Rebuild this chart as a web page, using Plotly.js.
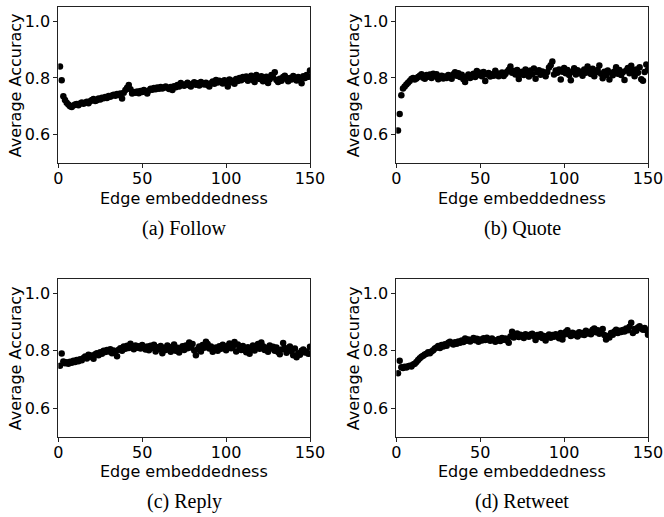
<!DOCTYPE html>
<html>
<head>
<meta charset="utf-8">
<script src="https://cdn.plot.ly/plotly-3.0.1.min.js"></script>
<style>
html,body{margin:0;padding:0;background:#fff;}
#chart{width:664px;height:517px;}
</style>
</head>
<body>
<div id="chart"></div>
<script>
// Edge embeddedness values 1..150
const embeddedness = Array.from({length:150},(_, i) => i + 1);

const follow = [
0.840,0.792,0.735,0.722,0.712,0.706,0.700,0.697,0.703,0.706,
0.708,0.704,0.710,0.713,0.709,0.712,0.716,0.711,0.718,0.722,
0.726,0.719,0.721,0.727,0.724,0.730,0.728,0.733,0.729,0.736,
0.734,0.738,0.741,0.737,0.743,0.740,0.745,0.727,0.748,0.757,
0.765,0.775,0.760,0.745,0.750,0.748,0.752,0.746,0.754,0.750,
0.757,0.753,0.745,0.756,0.762,0.758,0.764,0.760,0.766,0.762,
0.768,0.763,0.766,0.770,0.765,0.761,0.768,0.757,0.771,0.767,
0.775,0.770,0.782,0.776,0.772,0.778,0.783,0.774,0.770,0.779,
0.785,0.776,0.781,0.773,0.786,0.780,0.777,0.783,0.775,0.770,
0.781,0.787,0.779,0.793,0.784,0.790,0.786,0.780,0.792,0.788,
0.770,0.794,0.785,0.790,0.779,0.796,0.789,0.800,0.792,0.803,
0.797,0.805,0.790,0.799,0.808,0.793,0.786,0.810,0.802,0.796,
0.806,0.788,0.799,0.804,0.782,0.795,0.810,0.802,0.820,0.793,
0.786,0.797,0.790,0.803,0.808,0.796,0.788,0.800,0.794,0.807,
0.798,0.791,0.803,0.797,0.781,0.806,0.800,0.810,0.804,0.826
];

const quote = [
0.615,0.673,0.739,0.763,0.770,0.777,0.783,0.789,0.796,0.800,
0.794,0.798,0.803,0.808,0.813,0.801,0.797,0.810,0.804,0.812,
0.800,0.815,0.806,0.813,0.795,0.802,0.808,0.798,0.805,0.800,
0.810,0.803,0.797,0.813,0.820,0.808,0.816,0.803,0.811,0.795,
0.786,0.805,0.812,0.800,0.808,0.815,0.803,0.824,0.810,0.818,
0.806,0.821,0.789,0.812,0.817,0.805,0.813,0.808,0.825,0.816,
0.806,0.811,0.819,0.807,0.814,0.822,0.829,0.840,0.818,0.824,
0.812,0.828,0.796,0.815,0.822,0.810,0.830,0.818,0.805,0.826,
0.813,0.833,0.797,0.820,0.827,0.811,0.823,0.816,0.806,0.821,
0.837,0.845,0.858,0.812,0.826,0.818,0.830,0.794,0.822,0.835,
0.816,0.828,0.810,0.792,0.822,0.834,0.812,0.827,0.816,0.822,
0.808,0.830,0.818,0.840,0.825,0.814,0.832,0.806,0.820,0.828,
0.844,0.815,0.799,0.822,0.810,0.826,0.794,0.818,0.809,0.823,
0.838,0.815,0.828,0.810,0.820,0.793,0.826,0.835,0.816,0.843,
0.824,0.806,0.830,0.818,0.838,0.795,0.790,0.821,0.847,0.829
];

const reply = [
0.748,0.791,0.763,0.757,0.760,0.755,0.762,0.758,0.765,0.761,
0.768,0.764,0.771,0.767,0.775,0.780,0.773,0.786,0.779,0.784,
0.772,0.788,0.792,0.785,0.795,0.790,0.800,0.796,0.803,0.798,
0.806,0.792,0.801,0.797,0.781,0.804,0.809,0.800,0.815,0.807,
0.818,0.810,0.825,0.813,0.806,0.819,0.811,0.816,0.808,0.820,
0.812,0.805,0.815,0.802,0.818,0.810,0.821,0.798,0.813,0.806,
0.817,0.792,0.811,0.803,0.819,0.808,0.797,0.814,0.822,0.800,
0.811,0.794,0.807,0.816,0.803,0.819,0.809,0.829,0.812,0.824,
0.801,0.785,0.806,0.815,0.798,0.820,0.811,0.832,0.824,0.808,
0.815,0.797,0.803,0.812,0.800,0.816,0.807,0.821,0.812,0.802,
0.818,0.826,0.809,0.814,0.831,0.798,0.822,0.812,0.803,0.817,
0.808,0.795,0.813,0.790,0.806,0.819,0.801,0.812,0.824,0.807,
0.829,0.816,0.803,0.811,0.797,0.819,0.808,0.814,0.800,0.812,
0.796,0.788,0.805,0.827,0.810,0.793,0.804,0.815,0.799,0.785,
0.808,0.778,0.792,0.786,0.800,0.805,0.794,0.798,0.790,0.814
];

const retweet = [
0.722,0.765,0.743,0.740,0.744,0.742,0.746,0.748,0.745,0.752,
0.755,0.761,0.768,0.774,0.779,0.783,0.787,0.790,0.795,0.792,
0.798,0.802,0.808,0.812,0.817,0.810,0.820,0.815,0.823,0.818,
0.828,0.832,0.826,0.822,0.830,0.825,0.833,0.828,0.836,0.831,
0.843,0.835,0.840,0.833,0.838,0.845,0.837,0.842,0.832,0.840,
0.836,0.844,0.838,0.846,0.840,0.835,0.843,0.838,0.832,0.836,
0.841,0.834,0.845,0.839,0.843,0.836,0.828,0.850,0.867,0.847,
0.855,0.861,0.848,0.856,0.852,0.845,0.858,0.853,0.849,0.857,
0.860,0.852,0.838,0.855,0.849,0.858,0.845,0.852,0.836,0.850,
0.857,0.846,0.855,0.849,0.858,0.851,0.844,0.862,0.840,0.856,
0.866,0.872,0.858,0.852,0.863,0.855,0.860,0.850,0.865,0.857,
0.862,0.855,0.870,0.861,0.866,0.858,0.874,0.878,0.865,0.872,
0.860,0.868,0.876,0.855,0.840,0.852,0.847,0.862,0.856,0.868,
0.874,0.862,0.870,0.866,0.873,0.868,0.878,0.872,0.884,0.898,
0.862,0.876,0.870,0.882,0.886,0.878,0.874,0.880,0.872,0.856
];

const captions = ["(a) Follow", "(b) Quote", "(c) Reply", "(d) Retweet"];
const xTitle = "Edge embeddedness";
const yTitle = "Average Accuracy";
const xTicks = [0, 50, 100, 150];
const yTicks = [0.6, 0.8, 1.0];

const W = 664, H = 517;
const px = v => v / W;
const py = v => 1 - v / H;

const panels = [
  {data: follow,  x0: 58.3,  x1: 310, y0: 7,     y1: 163},
  {data: quote,   x0: 396.3, x1: 648, y0: 7,     y1: 163},
  {data: reply,   x0: 58.3,  x1: 310, y0: 279.3, y1: 436.7},
  {data: retweet, x0: 396.3, x1: 648, y0: 279.3, y1: 436.7}
];

const font = {family: "DejaVu Sans, sans-serif", size: 16, color: "#000"};
const traces = [];
const layout = {
  width: W, height: H,
  margin: {l: 0, r: 0, t: 0, b: 0},
  paper_bgcolor: "#fff", plot_bgcolor: "#fff",
  showlegend: false,
  font: font,
  annotations: []
};

panels.forEach((p, i) => {
  const n = i === 0 ? "" : String(i + 1);
  traces.push({
    type: "scatter", mode: "markers",
    x: embeddedness, y: p.data,
    xaxis: "x" + n, yaxis: "y" + n,
    marker: {color: "#000", size: 6.5, line: {width: 0}},
    hoverinfo: "skip"
  });
  const axCommon = {
    showline: true, mirror: true, linecolor: "#222", linewidth: 1,
    ticks: "outside", ticklen: 4, tickwidth: 1, tickcolor: "#222",
    showgrid: false, zeroline: false, tickfont: font
  };
  layout["xaxis" + n] = Object.assign({}, axCommon, {
    domain: [px(p.x0), px(p.x1)], range: [0, 150],
    tickvals: xTicks, ticktext: xTicks.map(String),
    ticklabelstandoff: -3,
    anchor: "y" + n
  });
  layout["yaxis" + n] = Object.assign({}, axCommon, {
    domain: [py(p.y1), py(p.y0)], range: [0.5, 1.05],
    tickvals: yTicks, ticktext: yTicks.map(v => v.toFixed(1)),
    anchor: "x" + n
  });
  const cx = (p.x0 + p.x1) / 2;
  layout.annotations.push({
    text: xTitle, xref: "paper", yref: "paper",
    x: px(cx), y: py(p.y1 + 35), xanchor: "center", yanchor: "middle",
    showarrow: false, font: font
  });
  layout.annotations.push({
    text: yTitle, xref: "paper", yref: "paper", textangle: -90,
    x: px(p.x0 - 43), y: py((p.y0 + p.y1) / 2), xanchor: "center", yanchor: "middle",
    showarrow: false, font: font
  });
  layout.annotations.push({
    text: captions[i], xref: "paper", yref: "paper",
    x: px(cx), y: py(p.y1 + 65), xanchor: "center", yanchor: "middle",
    showarrow: false,
    font: {family: "Liberation Serif, Times New Roman, serif", size: 20, color: "#000"}
  });
});

Plotly.newPlot("chart", traces, layout, {staticPlot: true, displayModeBar: false});
</script>
</body>
</html>
